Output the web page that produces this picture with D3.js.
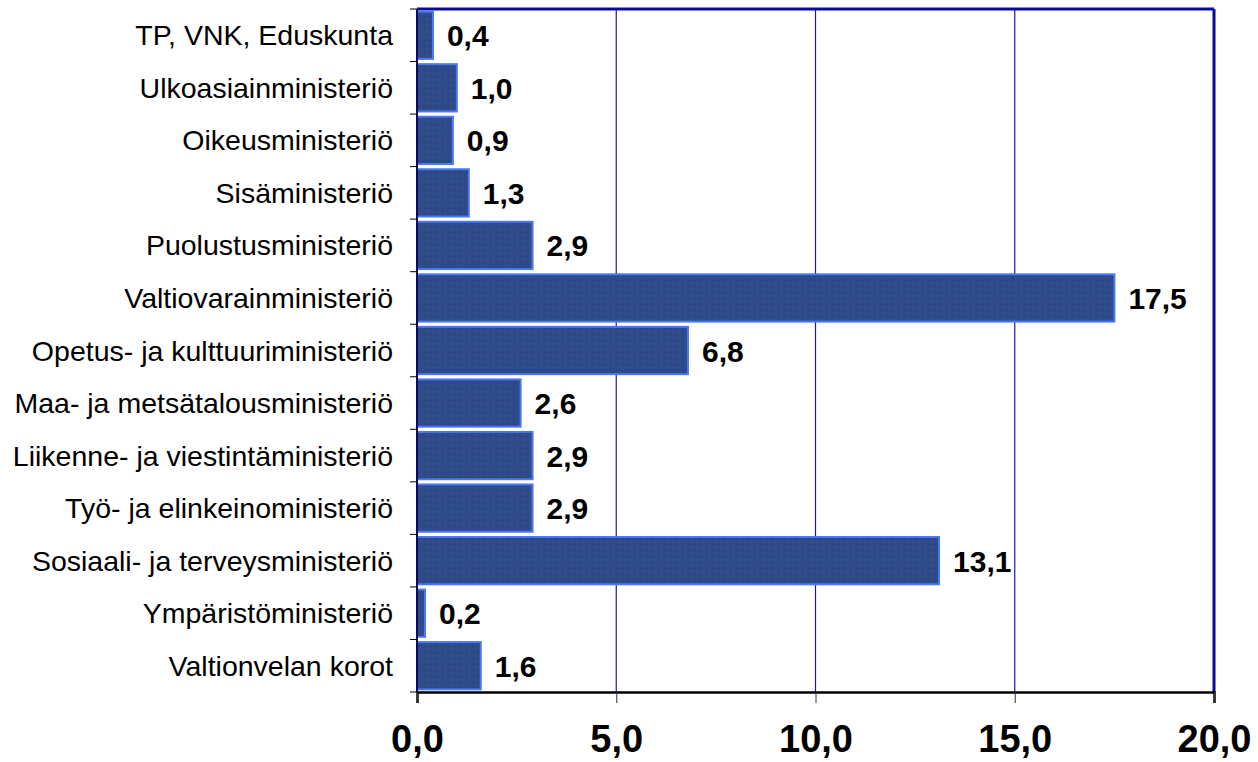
<!DOCTYPE html>
<html>
<head>
<meta charset="utf-8">
<script src="https://cdn.jsdelivr.net/npm/d3@7"></script>
<style>
  body { margin: 0; background: #fff; }
  svg { display: block; font-family: "Liberation Sans", Arial, sans-serif; }
</style>
</head>
<body>
<div id="chart"></div>
<script>
// Categories (top to bottom) and values
const ministries = [
  "TP, VNK, Eduskunta",
  "Ulkoasiainministeriö",
  "Oikeusministeriö",
  "Sisäministeriö",
  "Puolustusministeriö",
  "Valtiovarainministeriö",
  "Opetus- ja kulttuuriministeriö",
  "Maa- ja metsätalousministeriö",
  "Liikenne- ja viestintäministeriö",
  "Työ- ja elinkeinoministeriö",
  "Sosiaali- ja terveysministeriö",
  "Ympäristöministeriö",
  "Valtionvelan korot"
];
const amounts = [0.4, 1.0, 0.9, 1.3, 2.9, 17.5, 6.8, 2.6, 2.9, 2.9, 13.1, 0.2, 1.6];
const xTicks = [0, 5, 10, 15, 20];

const data = ministries.map((name, i) => ({ name, value: amounts[i] }));

// Finnish number format (decimal comma)
const fi = d3.formatLocale({ decimal: ",", thousands: " ", grouping: [3], currency: ["", " €"] });
const fmt = fi.format(".1f");

// Dimensions
const W = 1258, H = 762;
const margin = { top: 9, right: 44, bottom: 70, left: 417 };
const width = W - margin.left - margin.right;
const height = H - margin.top - margin.bottom;

const svg = d3.select("#chart")
  .append("svg")
  .attr("width", W)
  .attr("height", H);

// Dotted texture for the bars
const defs = svg.append("defs");
const pat = defs.append("pattern")
  .attr("id", "dots")
  .attr("width", 6)
  .attr("height", 6)
  .attr("patternUnits", "userSpaceOnUse");
pat.append("rect").attr("width", 6).attr("height", 6).attr("fill", "#2e4a87");
pat.append("rect").attr("x", 1).attr("y", 1).attr("width", 1).attr("height", 1).attr("fill", "#22339c");
pat.append("rect").attr("x", 4).attr("y", 4).attr("width", 1).attr("height", 1).attr("fill", "#3a5a99");

const g = svg.append("g")
  .attr("transform", `translate(${margin.left},${margin.top})`);

// Scales
const x = d3.scaleLinear()
  .domain([0, 20])
  .range([0, width]);

const y = d3.scaleBand()
  .domain(ministries)
  .range([0, height])
  .paddingInner(0.1)
  .paddingOuter(0.05);

// Vertical gridlines
g.selectAll(".grid")
  .data(xTicks.slice(1, -1))
  .enter()
  .append("line")
  .attr("x1", d => x(d)).attr("x2", d => x(d))
  .attr("y1", 0).attr("y2", height)
  .attr("stroke", "#1c1ca0")
  .attr("stroke-width", 1.2);

// Frame: top and right (navy)
g.append("line")
  .attr("x1", 0).attr("x2", width)
  .attr("y1", 0).attr("y2", 0)
  .attr("stroke", "#0a0a9a")
  .attr("stroke-width", 3);
g.append("line")
  .attr("x1", width).attr("x2", width)
  .attr("y1", 0).attr("y2", height)
  .attr("stroke", "#0a0a9a")
  .attr("stroke-width", 3);

// Bars
g.selectAll(".bar")
  .data(data)
  .enter()
  .append("rect")
  .attr("class", "bar")
  .attr("x", x(0))
  .attr("y", d => y(d.name))
  .attr("width", d => x(d.value) - x(0))
  .attr("height", y.bandwidth())
  .attr("fill", "url(#dots)")
  .attr("stroke", "#4a78f0")
  .attr("stroke-width", 2);

// Value labels
g.selectAll(".val")
  .data(data)
  .enter()
  .append("text")
  .attr("x", d => x(d.value) + 14)
  .attr("y", d => y(d.name) + y.bandwidth() / 2 + 11)
  .attr("font-size", 30)
  .attr("font-weight", "bold")
  .attr("fill", "#000")
  .text(d => fmt(d.value));

// Left axis: ticks at category boundaries
const bounds = d3.range(ministries.length + 1).map(i => i * height / ministries.length);
g.selectAll(".ytick")
  .data(bounds)
  .enter()
  .append("line")
  .attr("x1", -7).attr("x2", 0)
  .attr("y1", d => d).attr("y2", d => d)
  .attr("stroke", "#000")
  .attr("stroke-width", 1);

g.append("line")
  .attr("x1", 0).attr("x2", 0)
  .attr("y1", 0).attr("y2", height)
  .attr("stroke", "#0a0a60")
  .attr("stroke-width", 2);

// Category labels
g.selectAll(".cat")
  .data(ministries)
  .enter()
  .append("text")
  .attr("x", -24)
  .attr("y", d => y(d) + y.bandwidth() / 2 + 10)
  .attr("text-anchor", "end")
  .attr("font-size", 28.5)
  .attr("fill", "#000")
  .text(d => d);

// Bottom axis
const xAxis = g.append("g")
  .attr("transform", `translate(0,${height})`)
  .call(d3.axisBottom(x).tickValues(xTicks).tickFormat(fmt).tickSize(11).tickPadding(22));
xAxis.select(".domain").attr("stroke", "#000").attr("stroke-width", 2.5);
xAxis.selectAll(".tick line").attr("stroke", "#333");
xAxis.selectAll(".tick text")
  .attr("font-size", 38)
  .attr("font-weight", "bold")
  .attr("fill", "#000")
  .attr("font-family", "Liberation Sans, Arial, sans-serif");
</script>
</body>
</html>
